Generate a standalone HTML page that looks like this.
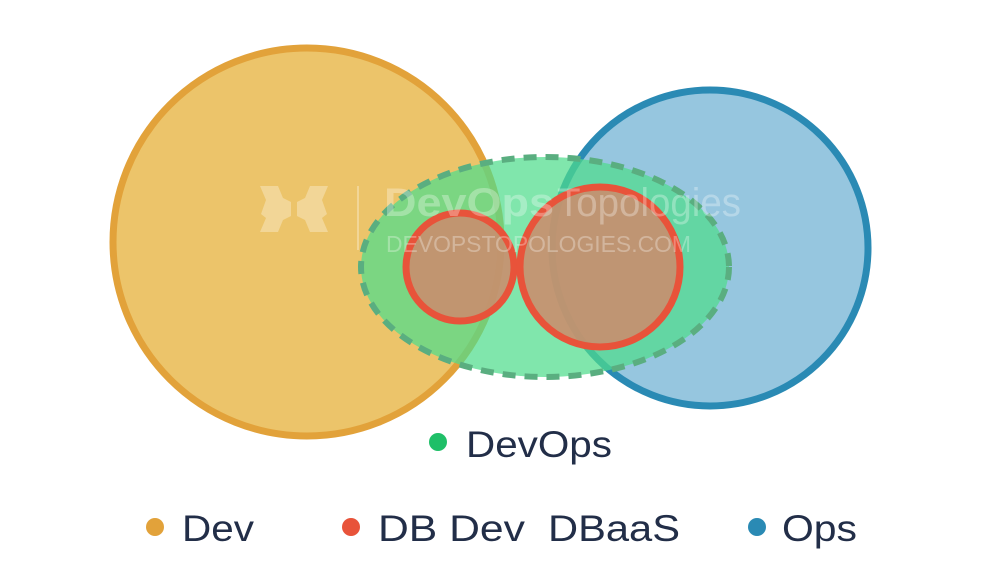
<!DOCTYPE html>
<html><head><style>html,body{margin:0;padding:0;background:#fff}svg{display:block}</style></head>
<body>
<svg width="1000" height="579" viewBox="0 0 1000 579" xmlns="http://www.w3.org/2000/svg" font-family="Liberation Sans, sans-serif">
<circle cx="307" cy="242" r="194" fill="#ecc46a" stroke="#e2a23a" stroke-width="7"/>
<circle cx="710" cy="248" r="158" fill="#96c6df" stroke="#2a8ab4" stroke-width="7"/>
<ellipse cx="545" cy="267" rx="184" ry="110" fill="#4fdc8c" fill-opacity="0.72" stroke="#5aae80" stroke-width="6" stroke-dasharray="13 9"/>
<circle cx="460" cy="267" r="54" fill="#c98e6e" fill-opacity="0.9" stroke="#e8533a" stroke-width="7"/>
<circle cx="600" cy="267" r="80" fill="#c98e6e" fill-opacity="0.9" stroke="#e8533a" stroke-width="7"/>
<g fill="#ffffff" fill-opacity="0.3">
<text x="384" y="216" font-size="40" font-weight="bold" textLength="170" lengthAdjust="spacingAndGlyphs">DevOps</text>
<text x="557" y="216" font-size="40" textLength="184" lengthAdjust="spacingAndGlyphs">Topologies</text>
<text x="386" y="252" font-size="23" textLength="305" lengthAdjust="spacingAndGlyphs">DEVOPSTOPOLOGIES.COM</text>
<rect x="357" y="186" width="2" height="64"/>
<path d="M260 186h18l5 12 8 4v14l-8 4-5 12h-18l6-14-5-4 5-14z"/>
<path d="M328 186h-18l-5 12-8 4v14l8 4 5 12h18l-6-14 5-4-5-14z"/>
</g>
<g fill="#222e48" font-size="37">
<circle cx="438" cy="442" r="9" fill="#1fbf68"/>
<text x="466" y="457" textLength="146" lengthAdjust="spacingAndGlyphs">DevOps</text>
<circle cx="155" cy="527" r="9" fill="#e2a23a"/>
<text x="182" y="541" textLength="72" lengthAdjust="spacingAndGlyphs">Dev</text>
<circle cx="351" cy="527" r="9" fill="#e8533a"/>
<text x="378" y="541" textLength="147" lengthAdjust="spacingAndGlyphs">DB Dev</text>
<text x="548" y="541" textLength="132" lengthAdjust="spacingAndGlyphs">DBaaS</text>
<circle cx="757" cy="527" r="9" fill="#2a8ab4"/>
<text x="782" y="541" textLength="75" lengthAdjust="spacingAndGlyphs">Ops</text>
</g>
</svg>
</body></html>
